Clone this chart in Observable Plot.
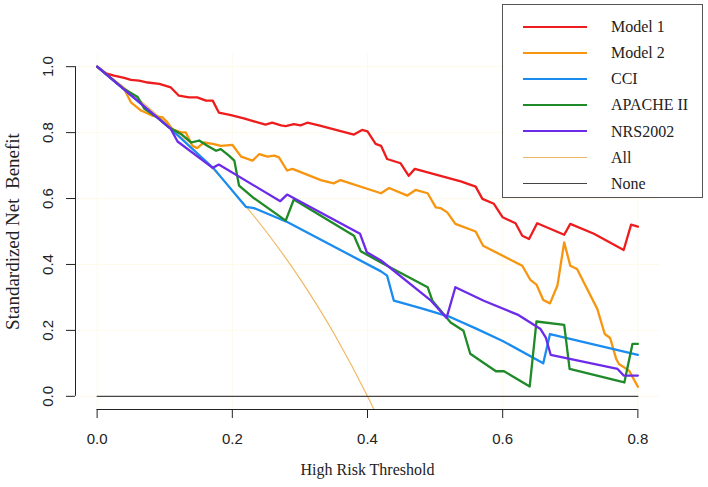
<!DOCTYPE html>
<html>
<head>
<meta charset="utf-8">
<script src="https://cdn.jsdelivr.net/npm/d3@7"></script>
<script src="https://cdn.jsdelivr.net/npm/@observablehq/plot@0.6"></script>
<style>
  html, body { margin: 0; padding: 0; background: #fff; }
  #wrap { position: relative; width: 708px; height: 487px; }
  #wrap svg text { white-space: pre; }
  #legend { position: absolute; left: 502px; top: 4px; width: 201px; height: 194px;
    border: 1px solid #555; box-sizing: border-box; background: #fff;
    font-family: "Liberation Serif", "Times New Roman", serif; font-size: 16px; color: #222; }
  .item { position: absolute; left: 0; height: 0; }
  .item .sw { position: absolute; left: 20px; width: 64px; }
  .item .lb { position: absolute; left: 108px; top: -10px; line-height: 20px; white-space: nowrap; }
</style>
</head>
<body>
<div id="wrap"><div id="legend"></div></div>
<script>
// ---- data ----
const xTicks = [0, 0.2, 0.4, 0.6, 0.8];
const yTicks = [0, 0.2, 0.4, 0.6, 0.8, 1.0];
const xDomain = [-0.032, 0.832];
const yDomain = [-0.04, 1.04];

const model1 = [[0,1.0],[0.013,0.98],[0.025,0.973],[0.04,0.966],[0.05,0.96],[0.062,0.958],[0.075,0.952],[0.092,0.948],[0.109,0.937],[0.121,0.912],[0.136,0.907],[0.148,0.907],[0.161,0.897],[0.171,0.897],[0.18,0.861],[0.198,0.853],[0.217,0.843],[0.232,0.834],[0.249,0.824],[0.259,0.83],[0.272,0.822],[0.279,0.82],[0.291,0.826],[0.301,0.822],[0.311,0.83],[0.328,0.822],[0.38,0.794],[0.392,0.808],[0.4,0.804],[0.412,0.766],[0.42,0.76],[0.429,0.72],[0.449,0.707],[0.461,0.669],[0.47,0.69],[0.508,0.669],[0.538,0.652],[0.56,0.636],[0.57,0.599],[0.587,0.584],[0.6,0.543],[0.619,0.525],[0.629,0.487],[0.639,0.477],[0.651,0.525],[0.691,0.49],[0.7,0.523],[0.735,0.493],[0.779,0.444],[0.79,0.521],[0.8,0.515]];

const model2 = [[0,1.0],[0.04,0.932],[0.05,0.892],[0.065,0.867],[0.082,0.851],[0.097,0.846],[0.104,0.831],[0.111,0.811],[0.124,0.801],[0.131,0.801],[0.141,0.76],[0.148,0.753],[0.158,0.77],[0.171,0.766],[0.183,0.76],[0.2,0.763],[0.213,0.727],[0.23,0.715],[0.24,0.735],[0.252,0.727],[0.262,0.73],[0.269,0.725],[0.281,0.685],[0.289,0.69],[0.331,0.656],[0.35,0.646],[0.36,0.656],[0.42,0.616],[0.432,0.632],[0.459,0.609],[0.471,0.626],[0.489,0.616],[0.501,0.573],[0.508,0.571],[0.518,0.558],[0.53,0.523],[0.56,0.5],[0.571,0.457],[0.629,0.396],[0.641,0.353],[0.65,0.339],[0.66,0.292],[0.67,0.282],[0.681,0.336],[0.691,0.467],[0.7,0.396],[0.71,0.386],[0.74,0.265],[0.751,0.189],[0.759,0.177],[0.768,0.113],[0.772,0.098],[0.787,0.078],[0.8,0.029]];

const cci = [[0,1.0],[0.065,0.887],[0.109,0.811],[0.173,0.69],[0.22,0.575],[0.232,0.571],[0.282,0.528],[0.42,0.379],[0.429,0.366],[0.439,0.29],[0.48,0.267],[0.523,0.24],[0.56,0.206],[0.6,0.168],[0.66,0.1],[0.67,0.189],[0.8,0.126]];

const apache = [[0,1.0],[0.04,0.932],[0.06,0.908],[0.07,0.872],[0.089,0.846],[0.106,0.816],[0.124,0.796],[0.139,0.77],[0.151,0.776],[0.163,0.76],[0.176,0.745],[0.183,0.75],[0.195,0.73],[0.203,0.715],[0.21,0.639],[0.23,0.604],[0.279,0.533],[0.291,0.597],[0.38,0.487],[0.39,0.44],[0.42,0.406],[0.489,0.331],[0.496,0.29],[0.523,0.224],[0.542,0.199],[0.552,0.129],[0.59,0.076],[0.602,0.076],[0.64,0.03],[0.65,0.227],[0.691,0.217],[0.699,0.083],[0.78,0.042],[0.792,0.159],[0.8,0.159]];

const nrs2002 = [[0,1.0],[0.109,0.811],[0.119,0.773],[0.171,0.693],[0.18,0.703],[0.271,0.592],[0.281,0.612],[0.389,0.493],[0.399,0.437],[0.42,0.412],[0.493,0.292],[0.517,0.238],[0.53,0.331],[0.572,0.29],[0.622,0.248],[0.656,0.204],[0.664,0.177],[0.671,0.126],[0.77,0.083],[0.779,0.063],[0.8,0.063]];

const treatAll = [[0,1.0],[0.05,0.921],[0.1,0.833],[0.15,0.735],[0.2,0.625],[0.25,0.5],[0.3,0.357],[0.35,0.192],[0.4,0.0],[0.41,-0.042]];

const treatNone = [[0,0],[0.8,0]];

const seriesNames = ["Model 1", "Model 2", "CCI", "APACHE II", "NRS2002", "All", "None"];
const seriesColors = ["#ee1c1c", "#f7950f", "#1a8cf0", "#1e8a28", "#6b2be8", "#f0b862", "#444444"];
const seriesWidths = [2.3, 2.3, 2.3, 2.3, 2.3, 1.2, 1.3];
const seriesData = [model1, model2, cci, apache, nrs2002, treatAll, treatNone];

// ---- chart ----
const lineMark = (i, extra = {}) => Plot.line(seriesData[i], {
  x: d => d[0], y: d => d[1], stroke: seriesColors[i], strokeWidth: seriesWidths[i],
  strokeLinejoin: "round", ...extra
});

const serif = "'Liberation Serif', 'Times New Roman', serif";

const chart = Plot.plot({
  width: 708,
  height: 487,
  marginLeft: 75,
  marginRight: 49,
  marginTop: 53,
  marginBottom: 78,
  x: { domain: xDomain },
  y: { domain: yDomain },
  style: { fontFamily: "'Liberation Sans', Arial, sans-serif", fontSize: "15px", color: "#222", background: "#fff" },
  marks: [
    Plot.ruleX(xTicks, { x: d => d, stroke: "#fefaea", strokeWidth: 1 }),
    Plot.ruleY(yTicks, { y: d => d, stroke: "#fefaea", strokeWidth: 1 }),
    lineMark(5, { curve: "monotone-x", clip: true }),
    lineMark(6),
    lineMark(0), lineMark(1), lineMark(2), lineMark(3), lineMark(4),
    // axis lines
    Plot.ruleY([yDomain[0]], { x1: xTicks[0], x2: xTicks[xTicks.length - 1], stroke: "#222", strokeWidth: 1 }),
    Plot.ruleX([xDomain[0]], { y1: yTicks[0], y2: yTicks[yTicks.length - 1], stroke: "#222", strokeWidth: 1 }),
    Plot.axisX({ ticks: xTicks, tickSize: 9, tickPadding: 15, tickFormat: d3.format(".1f"), fontSize: 15, label: null }),
    Plot.axisY({ ticks: yTicks, tickSize: 9, tickFormat: () => "", label: null }),
    Plot.text(yTicks, { y: d => d, frameAnchor: "left", dx: -27, rotate: -90, textAnchor: "middle", lineAnchor: "middle", text: d => d.toFixed(1), fontSize: 15, fill: "#222" }),
    Plot.text(["High Risk Threshold"], { frameAnchor: "bottom", dy: 60, textAnchor: "middle", lineAnchor: "middle", text: d => d, fontFamily: serif, fontSize: 16, fill: "#222" }),
    Plot.text(["Standardized Net  Benefit"], { frameAnchor: "left", dx: -63, rotate: -90, textAnchor: "middle", lineAnchor: "middle", text: d => d, fontFamily: serif, fontSize: 19, fill: "#222" })
  ]
});
document.getElementById("wrap").prepend(chart);

// ---- legend ----
const legend = document.getElementById("legend");
seriesNames.forEach((name, i) => {
  const item = document.createElement("div");
  item.className = "item";
  item.style.top = (21.7 + i * 26.2) + "px";
  const sw = document.createElement("div");
  sw.className = "sw";
  sw.style.borderTop = seriesWidths[i] + "px solid " + seriesColors[i];
  sw.style.top = (-seriesWidths[i] / 2) + "px";
  const lb = document.createElement("div");
  lb.className = "lb";
  lb.textContent = name;
  item.appendChild(sw);
  item.appendChild(lb);
  legend.appendChild(item);
});
</script>
</body>
</html>
